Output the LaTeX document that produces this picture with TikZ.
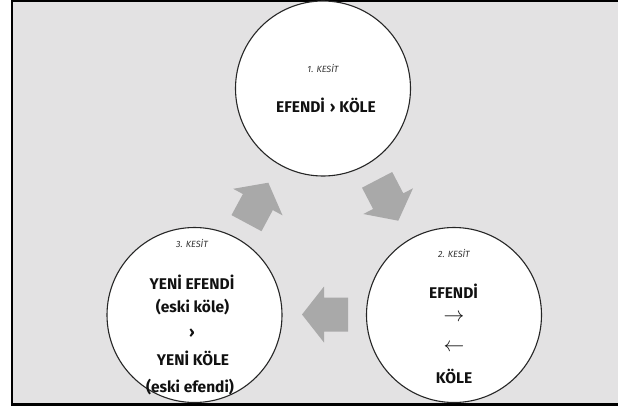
\documentclass[tikz,border=0pt]{standalone}
\usepackage{fontspec}
\setmainfont{Fira Sans}
\definecolor{bggray}{HTML}{E3E2E3}
\definecolor{arrowgray}{HTML}{A9A9A9}
\definecolor{txt}{HTML}{111111}
\tikzset{
  stage/.style={circle, draw=black!85, line width=1.1pt, fill=white, minimum size=175pt, inner sep=0pt},
  kesit/.style={inner sep=0pt, text=black!80, font=\fontsize{9}{10}\selectfont\itshape},
  big/.style={inner sep=0pt, text=txt, font=\fontsize{15.5}{18}\selectfont\bfseries},
  arr/.style={inner sep=0pt, text=txt, font=\fontsize{20}{22}\selectfont},
  blockarrow/.style={fill=arrowgray, draw=none},
}
\begin{document}
\begin{tikzpicture}[x=1pt,y=-1pt]
\useasboundingbox (0,0) rectangle (618,408);
% frame
\draw[line width=2.2pt, fill=bggray] (12,1) rectangle (622,404.5);
% circles
\node[stage] (c1) at (323,88.5) {};
\node[stage] (c2) at (454,315) {};
\node[stage] (c3) at (194.5,315) {};
% texts circle 1
\node[kesit] (k1) at (323,68) {1. KESİT};
\node[big] (t1) at (326,105) {EFENDİ\hspace{5pt}›\hspace{4pt}KÖLE};
% texts circle 2
\node[kesit] (k2) at (454,253) {2. KESİT};
\node[big] (t2a) at (453.5,291) {EFENDİ};
\node[arr] (t2b) at (454,318) {$\rightarrow$};
\node[arr] (t2c) at (454,348) {$\leftarrow$};
\node[big] (t2d) at (454,376) {KÖLE};
% texts circle 3
\node[kesit] (k3) at (192,243) {3. KESİT};
\node[big] (t3a) at (192,282) {YENİ EFENDİ};
\node[big] (t3b) at (192.5,307) {(eski köle)};
\node[big] (t3c) at (192,333) {›};
\node[big] (t3d) at (193,358) {YENİ KÖLE};
\node[big] (t3e) at (190,387) {(eski efendi)};
% block arrows
\fill[blockarrow] (268.3,182.7) -- (282.5,215.3) -- (272.8,210.1) -- (261.5,231.2)
  -- (231.5,215.1) -- (242.9,194.0) -- (233.2,188.8) -- cycle;
\fill[blockarrow] (398.3,220.7) -- (413.0,188.3) -- (403.3,193.3) -- (392.2,172.0)
  -- (362.0,187.7) -- (373.1,209.0) -- (363.3,214.0) -- cycle;
\fill[blockarrow] (302,314.5) -- (324,342.5) -- (324,331.5) -- (348,331.5)
  -- (348,297.5) -- (324,297.5) -- (324,286.5) -- cycle;
\end{tikzpicture}
\end{document}
